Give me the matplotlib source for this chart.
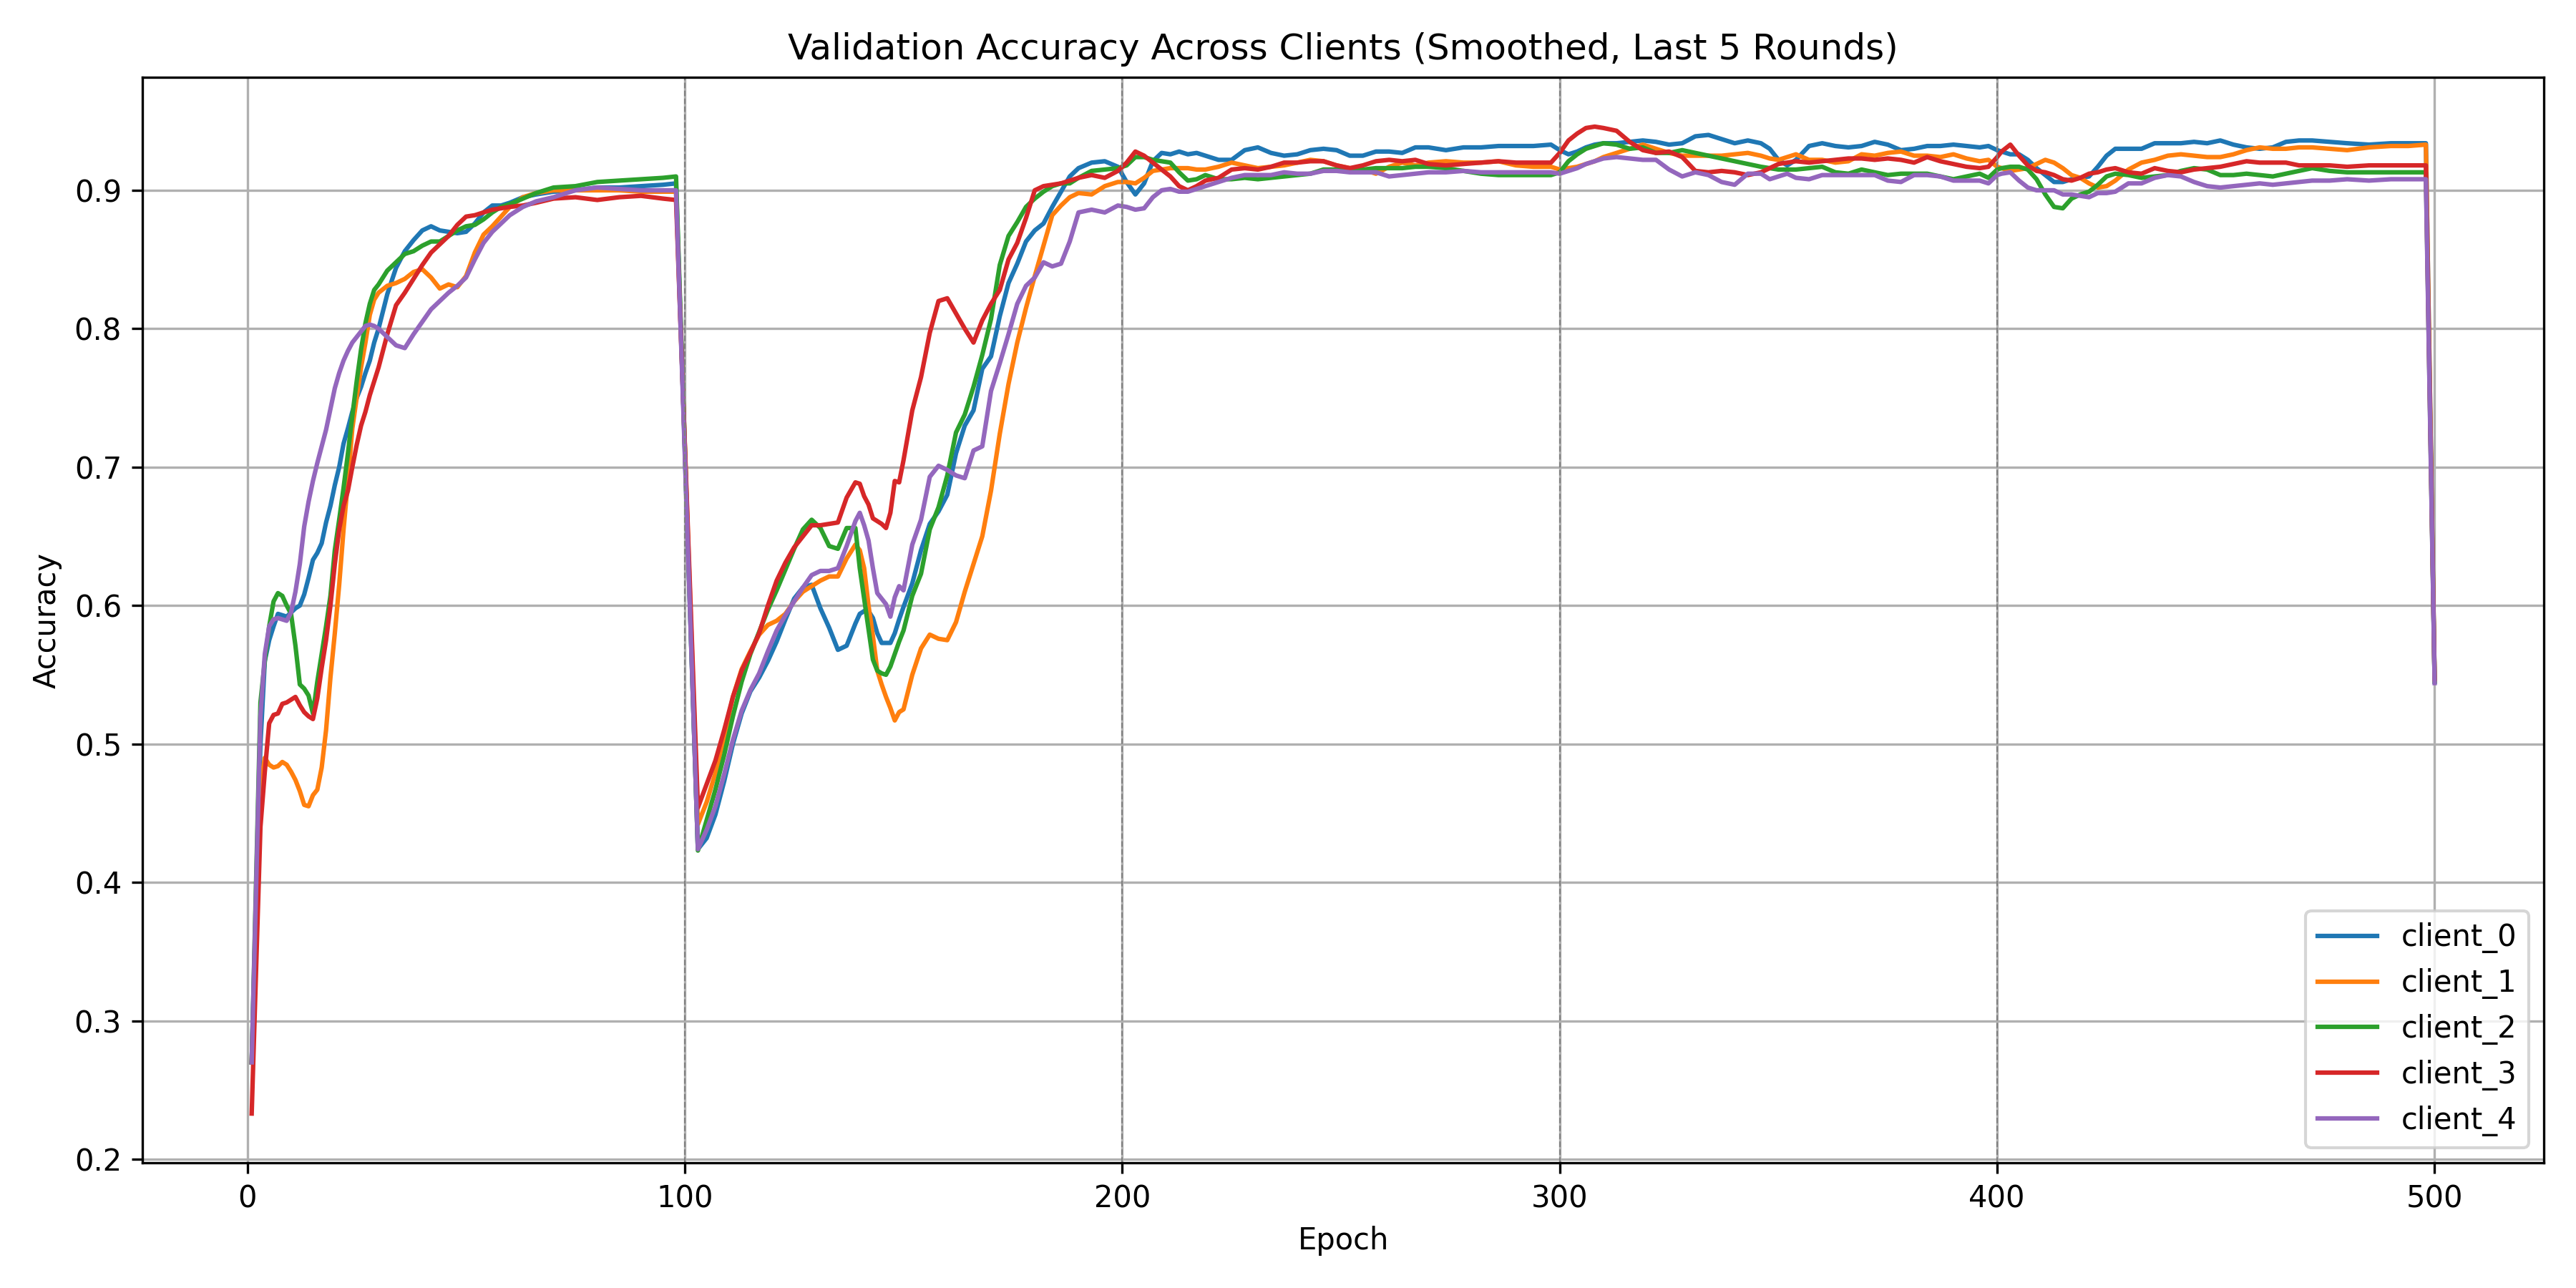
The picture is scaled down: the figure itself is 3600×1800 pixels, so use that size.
import matplotlib
matplotlib.use("Agg")
import matplotlib.pyplot as plt
import numpy as np

epochs = [1, 3, 4, 5, 6, 7, 8, 9, 10, 11, 12, 13, 14, 15, 16, 17, 18, 19, 20,
          21, 22, 23, 24, 25, 26, 27, 28, 29, 30, 32, 34, 36, 38, 40, 42, 44,
          46, 48, 50, 52, 54, 56, 58, 60, 63, 66, 70, 75, 80, 85, 90, 95, 98,
          103, 105, 107, 109, 111, 113, 115, 117, 119, 121, 123, 125, 127, 129,
          131, 133, 135, 137, 139, 140, 141, 142, 143, 144, 145, 146, 147, 148,
          149, 150, 152, 154, 156, 158, 160, 162, 164, 166, 168, 170, 172, 174,
          176, 178, 180, 182, 184, 186, 188, 190, 193, 196, 199,
          201, 203, 205, 207, 209, 211, 213, 215, 217, 219, 222, 225, 228, 231,
          234, 237, 240, 243, 246, 249, 252, 255, 258, 261, 264, 267, 270, 274,
          278, 282, 286, 290, 294, 298,
          300, 302, 304, 306, 308, 310, 313, 316, 319, 322, 325, 328, 331, 334,
          337, 340, 343, 346, 348, 350, 352, 354, 357, 360, 363, 366, 369, 372,
          375, 378, 381, 384, 387, 390, 393, 396, 398,
          400, 401, 403, 405, 407, 409, 411, 413, 415, 417, 419, 421, 423, 425,
          427, 430, 433, 436, 439, 442, 445, 448, 451, 454, 457, 460, 463, 466,
          469, 472, 476, 480, 485, 490, 494, 498, 500]

client_0 = [.27, .50, .56, .575, .585, .594, .593, .592, .595, .598, .60, .608, .62, .633, .638, .645, .66, .672, .687,
            .70, .717, .728, .74, .75, .758, .768, .777, .79, .80, .825, .844, .856, .864, .871, .874, .871,
            .87, .869, .870, .876, .884, .889, .889, .891, .895, .897, .899, .90, .902, .902, .903, .904, .905,
            .424, .432, .449, .473, .50, .522, .538, .548, .56, .574, .59, .605, .613, .615,
            .598, .584, .568, .571, .587, .594, .596, .596, .591, .58, .573, .573, .573, .58,
            .59, .599, .616, .64, .659, .668, .68, .71, .73, .741, .771, .78, .809, .833,
            .847, .863, .871, .876, .888, .899, .91, .916, .92, .921, .917,
            .906, .897, .905, .921, .927, .926, .928, .926, .927, .925, .922, .922, .929, .931,
            .927, .925, .926, .929, .93, .929, .925, .925, .928, .928, .927, .931, .931, .929,
            .931, .931, .932, .932, .932, .933,
            .929, .926, .928, .931, .933, .934, .934, .935, .936, .935, .933, .934, .939, .94,
            .937, .934, .936, .934, .93, .922, .918, .922, .932, .934, .932, .931, .932, .935,
            .933, .929, .93, .932, .932, .933, .932, .931, .932,
            .929, .928, .926, .926, .922, .916, .911, .906, .906, .908, .909, .91, .917, .925,
            .93, .93, .93, .934, .934, .934, .935, .934, .936, .933, .931, .93, .931, .935,
            .936, .936, .935, .934, .933, .934, .934, .934, .545]

client_1 = [.27, .47, .49, .485, .483, .484, .487, .485, .48, .474, .466, .456, .455, .463, .467, .483, .51, .548, .58,
            .615, .655, .69, .728, .75, .772, .79, .81, .821, .826, .831, .833, .836, .841, .843, .837, .829,
            .832, .83, .838, .855, .868, .874, .881, .888, .895, .898, .90, .90, .90, .90, .899, .899, .899,
            .442, .458, .479, .505, .534, .554, .567, .579, .586, .589, .594, .603, .61, .614,
            .618, .621, .621, .634, .644, .64, .627, .60, .578, .553, .543, .534, .526, .517,
            .523, .525, .55, .569, .579, .576, .575, .588, .61, .63, .65, .683, .724, .76,
            .79, .815, .838, .86, .882, .889, .895, .898, .897, .903, .906,
            .906, .905, .909, .914, .915, .916, .916, .916, .915, .915, .917, .92, .918, .916,
            .917, .918, .92, .922, .921, .918, .916, .915, .912, .917, .92, .918, .92, .921,
            .92, .92, .921, .918, .917, .917,
            .915, .916, .917, .919, .921, .924, .927, .93, .933, .93, .927, .925, .925, .925,
            .925, .926, .927, .925, .923, .922, .924, .926, .922, .922, .92, .921, .926, .925,
            .927, .928, .925, .925, .924, .926, .923, .921, .922,
            .917, .916, .914, .915, .916, .919, .922, .92, .916, .911, .909, .905, .902, .903,
            .907, .915, .92, .922, .925, .926, .925, .924, .924, .926, .929, .931, .93, .93,
            .931, .931, .93, .929, .931, .932, .932, .933, .546]

client_2 = [.27, .53, .56, .585, .603, .609, .607, .60, .594, .571, .543, .54, .535, .522, .545, .565, .585, .607, .64,
            .662, .685, .71, .737, .762, .785, .804, .818, .828, .832, .842, .848, .854, .856, .860, .863, .863,
            .867, .871, .874, .875, .879, .884, .888, .890, .894, .898, .902, .903, .906, .907, .908, .909, .91,
            .423, .445, .467, .492, .52, .545, .565, .581, .597, .611, .626, .641, .655, .662,
            .656, .643, .641, .656, .656, .627, .605, .583, .561, .553, .551, .55, .556, .565,
            .574, .582, .607, .623, .655, .671, .694, .725, .738, .758, .781, .807, .846, .867,
            .877, .888, .894, .899, .903, .905, .905, .909, .914, .915, .916,
            .918, .924, .924, .922, .921, .92, .913, .907, .908, .911, .908, .908, .909, .908,
            .909, .91, .911, .912, .915, .915, .915, .915, .916, .916, .916, .917, .917, .916,
            .914, .912, .911, .911, .911, .911,
            .913, .921, .926, .93, .932, .934, .933, .93, .931, .927, .927, .929, .927, .925,
            .923, .921, .919, .917, .916, .915, .915, .915, .916, .917, .913, .912, .915, .913,
            .911, .912, .912, .912, .91, .908, .91, .912, .909,
            .915, .916, .917, .917, .915, .908, .897, .888, .887, .894, .897, .899, .904, .91,
            .912, .911, .909, .91, .911, .914, .916, .915, .911, .911, .912, .911, .91, .912,
            .914, .916, .914, .913, .913, .913, .913, .913, .545]

client_3 = [.233, .44, .48, .515, .521, .522, .529, .53, .532, .534, .528, .523, .52, .518, .533, .555, .575, .60, .63,
            .655, .672, .683, .70, .716, .73, .74, .752, .762, .772, .796, .817, .826, .836, .846, .855, .861,
            .867, .875, .881, .882, .884, .886, .887, .888, .889, .891, .894, .895, .893, .895, .896, .894, .893,
            .454, .471, .488, .51, .534, .553, .566, .58, .60, .618, .631, .642, .65, .658,
            .658, .659, .66, .678, .689, .688, .679, .673, .663, .661, .659, .656, .667, .69,
            .689, .705, .741, .765, .797, .82, .822, .811, .80, .79, .806, .818, .828, .85,
            .862, .88, .90, .903, .904, .905, .907, .909, .911, .909, .914,
            .92, .928, .925, .92, .915, .91, .903, .90, .903, .907, .909, .915, .916, .915,
            .917, .92, .92, .921, .921, .918, .916, .918, .921, .922, .921, .922, .919, .918,
            .919, .92, .921, .92, .92, .92,
            .927, .936, .941, .945, .946, .945, .943, .935, .929, .927, .928, .924, .914, .913,
            .914, .913, .911, .913, .916, .919, .92, .921, .92, .921, .922, .923, .923, .922,
            .923, .922, .92, .924, .921, .919, .917, .916, .917,
            .924, .928, .933, .925, .918, .914, .913, .911, .908, .907, .909, .912, .913, .915,
            .916, .913, .912, .916, .914, .913, .915, .916, .917, .919, .921, .92, .92, .92,
            .918, .918, .918, .917, .918, .918, .918, .918, .547]

client_4 = [.27, .52, .565, .585, .59, .591, .59, .589, .595, .61, .63, .657, .675, .69, .703, .715, .727, .742, .757,
            .768, .777, .784, .79, .794, .798, .802, .803, .802, .80, .794, .788, .786, .796, .805, .814, .82,
            .826, .831, .837, .85, .862, .87, .876, .882, .888, .892, .895, .90, .902, .901, .90, .90, .90,
            .424, .438, .455, .478, .503, .524, .539, .551, .567, .582, .593, .603, .613, .622,
            .625, .625, .627, .643, .661, .667, .658, .647, .627, .609, .605, .601, .592, .606,
            .614, .611, .644, .662, .693, .701, .698, .694, .692, .712, .715, .755, .775, .796,
            .818, .831, .837, .848, .845, .847, .863, .884, .886, .884, .889,
            .888, .886, .887, .895, .90, .901, .899, .899, .901, .903, .906, .909, .911, .911,
            .911, .913, .912, .912, .914, .914, .913, .913, .913, .91, .911, .912, .913, .913,
            .914, .913, .913, .913, .913, .913,
            .912, .914, .916, .919, .921, .923, .924, .923, .922, .922, .915, .91, .913, .911,
            .906, .904, .912, .912, .908, .91, .912, .909, .908, .911, .911, .911, .911, .911,
            .907, .906, .911, .911, .91, .907, .907, .907, .905,
            .911, .912, .913, .907, .902, .90, .90, .90, .897, .897, .896, .895, .898, .898,
            .899, .905, .905, .909, .911, .91, .906, .903, .902, .903, .904, .905, .904, .905,
            .906, .907, .907, .908, .907, .908, .908, .908, .544]

clients = ["client_0", "client_1", "client_2", "client_3", "client_4"]
series = [client_0, client_1, client_2, client_3, client_4]
round_marks = [100, 200, 300, 400]

fig, ax = plt.subplots(figsize=(12, 6), dpi=300)

for name, vals in zip(clients, series):
    ax.plot(epochs, vals, label=name, linewidth=1.5)

for r in round_marks:
    ax.axvline(r, color="gray", linestyle="--", linewidth=0.5)

ax.set_title("Validation Accuracy Across Clients (Smoothed, Last 5 Rounds)")
ax.set_xlabel("Epoch")
ax.set_ylabel("Accuracy")
ax.grid(True)
ax.legend(loc="lower right")

plt.tight_layout()
plt.savefig("out.png", dpi=300)
